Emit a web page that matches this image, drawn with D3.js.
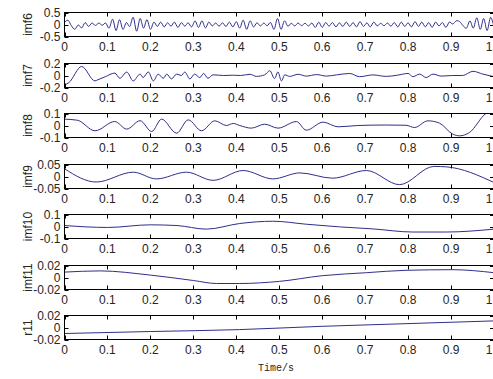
<!DOCTYPE html>
<html>
<head>
<meta charset="utf-8">
<script src="https://cdn.jsdelivr.net/npm/d3@7"></script>
<style>
  body { margin: 0; background: #fff; }
  svg { display: block; }
</style>
</head>
<body>
<div id="chart"></div>
<script>
const width = 493, height = 379

const xTicks = [0, 0.1, 0.2, 0.3, 0.4, 0.5, 0.6, 0.7, 0.8, 0.9, 1]

// imf6 sampled on an even grid 0..1 (126 samples)
const imf6Values = [
  0.08, 0.18, -0.05, -0.2, -0.02, -0.14, 0.08, -0.08, 0.06, -0.04, 0.06, -0.03, 0.06,
  -0.15, 0.22, -0.25, 0.2, -0.2, 0.08, -0.08, 0.3, -0.28, 0.25, -0.15, 0.2, -0.2,
  0.1, -0.08, 0.1, -0.1, 0.07, -0.07, 0.1, -0.12, 0.08, -0.07, 0.07, -0.1, 0.15,
  -0.12, 0.15, -0.14, 0.1, -0.06, 0.06, -0.07, 0.07, -0.08, 0.1, -0.1, 0.12, -0.15,
  0.18, -0.2, 0.15, -0.1, 0.07, -0.06, 0.06, -0.05, 0.08, -0.2, 0.25, -0.2, 0.15,
  -0.07, 0.05, -0.06, 0.06, -0.05, 0.05, -0.06, 0.06, -0.12, 0.1, -0.12, 0.08, -0.07,
  0.08, -0.1, 0.07, -0.08, 0.1, -0.08, 0.08, -0.1, 0.12, -0.08, 0.07, -0.1, 0.1,
  -0.06, 0.05, -0.05, 0.06, -0.07, 0.08, -0.1, 0.1, -0.08, 0.07, -0.1, 0.12, -0.08,
  0.1, -0.1, 0.08, -0.12, 0.1, -0.06, 0.08, -0.12, 0.1, 0.02, 0.15, 0.12, -0.05,
  -0.15, 0.15, -0.15, 0.28, -0.2, 0.25, -0.25, 0.3, -0.1
]

const imf7T = [0, 0.01, 0.04, 0.071, 0.078, 0.095, 0.117, 0.129, 0.145, 0.16, 0.176, 0.183, 0.195, 0.207,
  0.218, 0.23, 0.238, 0.249, 0.261, 0.272, 0.28, 0.292, 0.303, 0.315, 0.324, 0.334, 0.346, 0.37, 0.393,
  0.41, 0.432, 0.447, 0.466, 0.478, 0.489, 0.497, 0.505, 0.513, 0.524, 0.544, 0.563, 0.587, 0.61, 0.633,
  0.664, 0.687, 0.718, 0.749, 0.775, 0.8, 0.811, 0.827, 0.842, 0.858, 0.877, 0.904, 0.927, 0.951, 0.974, 1]
const imf7V = [-0.16, -0.12, 0.15, -0.09, -0.07, -0.02, 0.04, -0.046, 0.057, -0.09, 0.023, -0.034, 0.06, -0.09,
  0.023, -0.046, 0.023, -0.057, 0.023, 0.0, 0.057, -0.057, 0.023, -0.034, 0.034, -0.046, 0.011, 0.0, 0.005,
  0.0, 0.02, -0.015, 0.011, 0.08, -0.05, 0.06, -0.09, 0.011, -0.015, 0.02, -0.01, 0.015, -0.01, 0.01,
  0.034, -0.02, 0.01, -0.015, 0.005, 0.034, -0.02, 0.023, -0.034, 0.023, -0.01, 0.0, 0.0, 0.07, 0.023, -0.02]

const imf8T = [0, 0.03, 0.071, 0.117, 0.145, 0.176, 0.203, 0.226, 0.261, 0.288, 0.319, 0.35, 0.377, 0.393,
  0.408, 0.435, 0.466, 0.497, 0.54, 0.563, 0.602, 0.637, 0.683, 0.749, 0.795, 0.815, 0.846, 0.873, 0.904,
  0.92, 0.943, 0.981, 1]
const imf8V = [0.053, 0.044, -0.044, 0.033, -0.03, 0.04, -0.05, 0.053, -0.064, 0.047, -0.044, 0.039, 0.0, 0.017,
  0.0, -0.022, 0.011, -0.022, 0.033, -0.039, 0.028, -0.011, 0.0, 0.004, 0.002, -0.017, 0.039, 0.02, -0.072,
  -0.086, -0.058, 0.1, 0.13]

const imf9T = [0, 0.074, 0.16, 0.214, 0.284, 0.346, 0.416, 0.485, 0.548, 0.624, 0.703, 0.78, 0.86, 0.89, 1]
const imf9V = [0.032, -0.023, 0.018, -0.01, 0.018, -0.016, 0.025, -0.01, 0.015, -0.007, 0.025, -0.034, 0.042, 0.04, -0.025]

const imf10T = [0, 0.1, 0.2, 0.262, 0.33, 0.408, 0.485, 0.563, 0.64, 0.718, 0.811, 0.889, 1]
const imf10V = [0.008, -0.008, 0.014, 0.008, -0.022, 0.025, 0.044, 0.019, -0.003, -0.02, -0.046, -0.046, -0.022]

const imf11T = [0, 0.083, 0.2, 0.3, 0.354, 0.408, 0.5, 0.6, 0.703, 0.795, 0.904, 1]
const imf11V = [0.009, 0.011, 0.004, -0.005, -0.01, -0.01, -0.0065, 0.003, 0.008, 0.012, 0.013, 0.008]

const r11T = [0, 0.2, 0.408, 0.6, 0.795, 1]
const r11V = [-0.01, -0.0067, -0.0035, 0.002, 0.0064, 0.011]

const panels = [
  { name: 'imf6', t: imf6Values.map((v, i) => i / (imf6Values.length - 1)), v: imf6Values, ticks: [-0.5, 0, 0.5] },
  { name: 'imf7', t: imf7T, v: imf7V, ticks: [-0.2, 0, 0.2] },
  { name: 'imf8', t: imf8T, v: imf8V, ticks: [-0.1, 0, 0.1] },
  { name: 'imf9', t: imf9T, v: imf9V, ticks: [-0.05, 0, 0.05] },
  { name: 'imf10', t: imf10T, v: imf10V, ticks: [-0.1, 0, 0.1] },
  { name: 'imf11', t: imf11T, v: imf11V, ticks: [-0.02, 0, 0.02] },
  { name: 'r11', t: r11T, v: r11V, ticks: [-0.02, 0, 0.02] }
]

const left = 64.5, right = 494, top0 = 12, pitch = 50.5, panelH = 24
const lineColor = '#2e2e8c'
const textColor = '#262626'

const svg = d3.select('#chart').append('svg')
  .attr('width', width)
  .attr('height', height)
  .style('font-family', 'Arial, "Liberation Sans", sans-serif')

const x = d3.scaleLinear().domain([0, 1]).range([left, right])

panels.forEach((p, i) => {
  const top = Math.round(top0 + i * pitch) + 0.5
  const y = d3.scaleLinear().domain([p.ticks[0], p.ticks[2]]).range([top + panelH, top])
  const g = svg.append('g')

  g.append('clipPath').attr('id', 'clip' + i)
    .append('rect').attr('x', left).attr('y', top).attr('width', right - left).attr('height', panelH)

  const line = d3.line()
    .x((d, k) => x(p.t[k]))
    .y(d => y(d))
    .curve(i === 0 ? d3.curveCardinal : d3.curveMonotoneX)

  g.append('path')
    .datum(p.v)
    .attr('d', line)
    .attr('fill', 'none')
    .attr('stroke', lineColor)
    .attr('stroke-width', 1)
    .attr('clip-path', 'url(#clip' + i + ')')

  // x ticks, inward on both top and bottom
  g.selectAll('.xt')
    .data(xTicks)
    .enter()
    .append('path')
    .attr('d', d => {
      const px = Math.round(x(d)) + 0.5
      return `M${px},${top + panelH}v-4M${px},${top}v4`
    })
    .attr('stroke', '#000')

  g.selectAll('.xl')
    .data(xTicks)
    .enter()
    .append('text')
    .attr('x', d => x(d))
    .attr('y', top + panelH + 14)
    .attr('text-anchor', 'middle')
    .attr('font-size', 12)
    .attr('fill', textColor)
    .text(d => d === 0 ? '0' : d3.format('.1f')(d))

  // y ticks on left and right
  g.selectAll('.yt')
    .data(p.ticks)
    .enter()
    .append('path')
    .attr('d', d => {
      const py = Math.round(y(d)) + 0.5
      return `M${left},${py}h4M${right},${py}h-4`
    })
    .attr('stroke', '#000')

  g.selectAll('.yl')
    .data(p.ticks)
    .enter()
    .append('text')
    .attr('x', left - 4)
    .attr('y', d => y(d) + 4)
    .attr('text-anchor', 'end')
    .attr('font-size', 12)
    .attr('fill', textColor)
    .text(d => d3.format('')(d).replace('−', '-'))

  g.append('rect')
    .attr('x', left)
    .attr('y', top)
    .attr('width', right - left)
    .attr('height', panelH)
    .attr('fill', 'none')
    .attr('stroke', '#000')

  g.append('text')
    .attr('transform', `translate(32,${top + panelH / 2}) rotate(-90)`)
    .attr('text-anchor', 'middle')
    .attr('font-size', 12)
    .attr('fill', textColor)
    .text(p.name)
})

svg.append('text')
  .attr('x', 276)
  .attr('y', 371)
  .attr('text-anchor', 'middle')
  .attr('font-family', '"Liberation Mono", "DejaVu Sans Mono", monospace')
  .attr('font-size', 10)
  .attr('fill', textColor)
  .text('Time/s')
</script>
</body>
</html>
